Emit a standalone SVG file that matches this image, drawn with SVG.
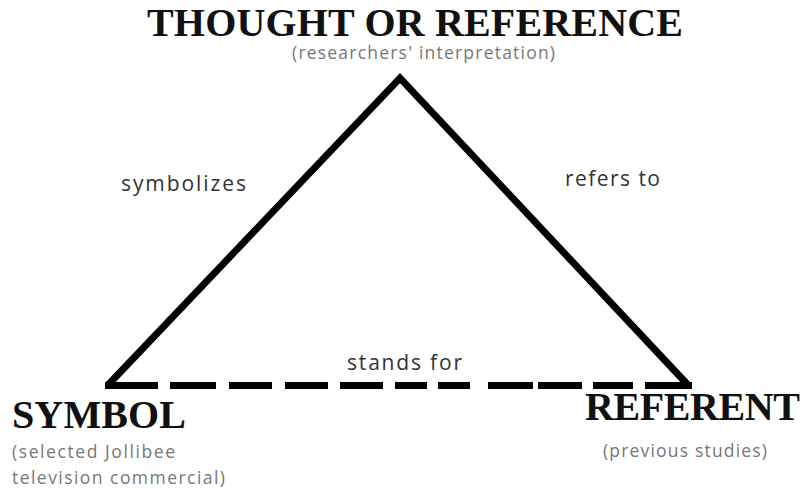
<svg xmlns="http://www.w3.org/2000/svg" width="807" height="489" viewBox="0 0 807 489">
<style>
.title{font-family:"Liberation Serif","Times New Roman",serif;font-weight:bold;font-size:40px;fill:#111}
.sub{font-family:"Open Sans","DejaVu Sans",sans-serif;font-size:17.5px;fill:#777}
.lbl{font-family:"Open Sans","DejaVu Sans",sans-serif;font-size:21px;fill:#333}
.edge{fill:none;stroke:#000;stroke-width:7}
</style>
<rect width="807" height="489" fill="#fff"/>
<g id="connectors">
<polyline class="edge" points="108,385 400,78 688,385" stroke-linejoin="miter"/>
<path class="edge" d="M105,385.5H158 M170,385.5H216 M229,385.5H272 M285,385.5H328 M340,385.5H383 M395,385.5H427 M438,385.5H470 M488,385.5H533 M538,385.5H582 M593,385.5H633 M645,385.5H692"/>
<text class="lbl" x="121" y="191" textLength="125">symbolizes</text>
<text class="lbl" x="565" y="186" textLength="95">refers to</text>
<text class="lbl" x="347" y="370" textLength="115">stands for</text>
</g>
<g id="thought">
<text class="title" x="147" y="36" textLength="536">THOUGHT OR REFERENCE</text>
<text class="sub" x="292" y="59" textLength="263">(researchers' interpretation)</text>
</g>
<g id="symbol">
<text class="title" x="12" y="428" textLength="174">SYMBOL</text>
<text class="sub" x="12" y="458" textLength="163">(selected Jollibee</text>
<text class="sub" x="12" y="484" textLength="213">television commercial)</text>
</g>
<g id="referent">
<text class="title" x="585" y="420" textLength="215">REFERENT</text>
<text class="sub" x="603" y="457" textLength="164">(previous studies)</text>
</g>
</svg>
